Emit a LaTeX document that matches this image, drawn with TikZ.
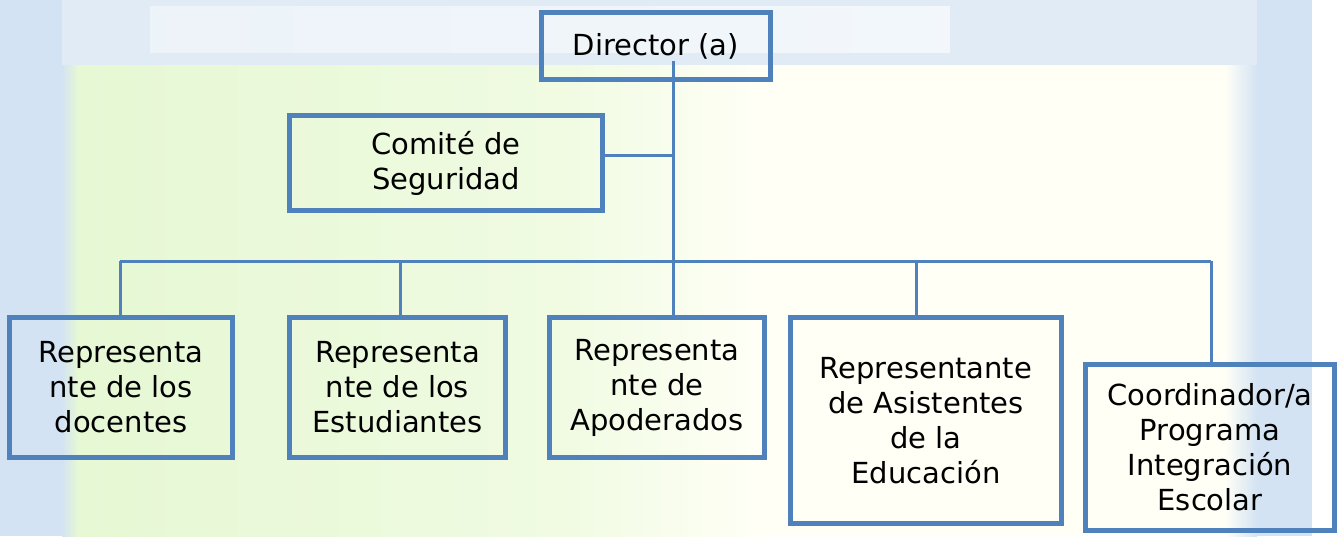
\documentclass[tikz,border=0pt]{standalone}
\usepackage{fontspec}
\setmainfont{DejaVu Sans}
\definecolor{orgblue}{RGB}{79,129,189}
\definecolor{stripblue}{RGB}{212,227,243}
\definecolor{bandblue}{RGB}{224,235,245}
\definecolor{paleg}{RGB}{230,248,212}
\definecolor{cream}{RGB}{255,255,246}
\begin{document}
\begin{tikzpicture}[x=1pt,y=-1pt,
  box/.style={draw=orgblue,line width=5pt,align=center,inner sep=0pt,
    font=\fontsize{29}{35}\selectfont,text=black},
  link/.style={draw=orgblue,line width=3pt}]
\useasboundingbox (0,0) rectangle (1343,536);
% background (faded screenshot)
\fill[white] (0,0) rectangle (1343,536);
\fill[stripblue] (0,0) rectangle (62,536);
\fill[left color=stripblue,right color=paleg] (62,65) rectangle (78,536);
\fill[left color=paleg,right color=paleg!60!cream] (78,65) rectangle (560,536);
\fill[left color=paleg!60!cream,right color=cream] (560,65) rectangle (760,536);
\fill[cream] (760,65) rectangle (1225,536);
\fill[left color=cream,right color=stripblue] (1225,65) rectangle (1257,536);
\fill[stripblue] (1257,0) rectangle (1312,536);
\fill[bandblue] (62,0) rectangle (1257,65);
\fill[left color=bandblue!60!white,right color=bandblue!40!white] (150,6) rectangle (950,52);
% boxes
\node[box,minimum width=229pt,minimum height=67pt] (dir) at (656,46) {Director (a)};
\node[box,minimum width=313pt,minimum height=95pt] (com) at (446,163) {Comit\'e de\\Seguridad};
\node[box,minimum width=223pt,minimum height=140pt] (b1) at (121,387.5) {Representa\\nte de los\\docentes};
\node[box,minimum width=216pt,minimum height=140pt] (b2) at (397.5,387.5) {Representa\\nte de los\\Estudiantes};
\node[box,minimum width=215pt,minimum height=140pt] (b3) at (657,387.5) {Representa\\nte de\\Apoderados};
\node[box,minimum width=271pt,minimum height=206pt] (b4) at (926,420.5) {Representante\\de Asistentes\\de la\\Educaci\'on};
\node[box,minimum width=249pt,minimum height=166pt] (b5) at (1210,447.5) {Coordinador/a\\Programa\\Integraci\'on\\Escolar};
% connectors
\coordinate (top) at (673,61);
\coordinate (comj) at (673,155);
\coordinate (busL) at (120,261);
\coordinate (bus2) at (400,261);
\coordinate (bus4) at (916,261);
\coordinate (busR) at (1211,261);
\draw[link] (top) -- (b3.north -| top);
\draw[link] (com.east |- comj) -- (comj);
\draw[link] (busL) -- (busR);
\draw[link] (busL) -- (b1.north -| busL);
\draw[link] (bus2) -- (b2.north -| bus2);
\draw[link] (bus4) -- (b4.north -| bus4);
\draw[link] (busR) -- (b5.north -| busR);
\end{tikzpicture}
\end{document}
